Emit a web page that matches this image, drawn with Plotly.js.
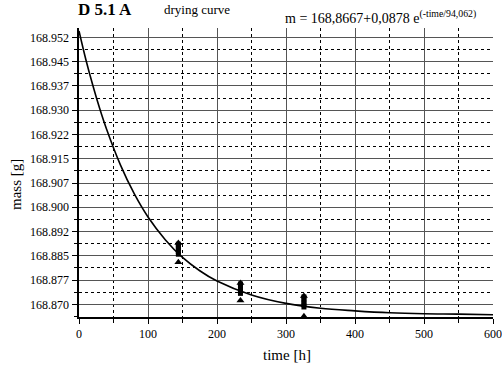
<!DOCTYPE html>
<html>
<head>
<meta charset="utf-8">
<script src="https://cdn.plot.ly/plotly-3.0.1.min.js"></script>
<style>html,body{margin:0;padding:0;background:#fff;}#chart{width:502px;height:367px;}</style>
</head>
<body>
<div id="chart"></div>
<script>
// Fitted drying curve
const curveTime = [0, 10, 20, 30, 40, 60, 80, 100, 125, 150, 175, 200, 250, 300, 350, 400, 450, 500, 550, 600];
const curveMass = [168.9545, 168.9456, 168.9377, 168.9305, 168.9241, 168.9131, 168.9042, 168.8970, 168.8900, 168.8845, 168.8804, 168.8772, 168.8729, 168.8703, 168.8688, 168.8680, 168.8674, 168.8671, 168.8670, 168.8668];

// Measured samples (stacked squares)
const sampleTime = [144, 144, 144, 144, 144, 234, 234, 234, 234, 234, 326, 326, 326, 326, 326];
const sampleMass = [168.8886, 168.8879, 168.8871, 168.8863, 168.8855, 168.8763, 168.8756, 168.8748, 168.8741, 168.8734, 168.8723, 168.8715, 168.8707, 168.8699, 168.8692];

// Measured samples (triangles)
const triTime = [144, 144, 234, 234, 326, 326];
const triMass = [168.8890, 168.8830, 168.8766, 168.8712, 168.8726, 168.8663];

// Axis ticks
const yTickVals = [168.8700, 168.8775, 168.8850, 168.8925, 168.9000, 168.9075, 168.9150, 168.9225, 168.9300, 168.9375, 168.9450, 168.9525];
const yTickText = ['168.870', '168.877', '168.885', '168.892', '168.900', '168.907', '168.915', '168.922', '168.930', '168.937', '168.945', '168.952'];
const xTickVals = [0, 100, 200, 300, 400, 500, 600];

const serif = 'Liberation Serif, Times New Roman, serif';

const traces = [
  {x: curveTime, y: curveMass, mode: 'lines', line: {color: '#000', width: 1.6, shape: 'spline', smoothing: 1}, hoverinfo: 'skip', showlegend: false},
  {x: sampleTime, y: sampleMass, mode: 'markers', marker: {symbol: 'square', size: 5, color: '#000'}, showlegend: false},
  {x: triTime, y: triMass, mode: 'markers', marker: {symbol: 'triangle-up', size: 7, color: '#000'}, showlegend: false}
];

const px = v => (v - 79) / 414;
const py = v => (317 - v) / 289;

const layout = {
  width: 502, height: 367,
  margin: {l: 79, r: 9, t: 28, b: 50},
  paper_bgcolor: '#fff', plot_bgcolor: '#fff',
  font: {family: serif, color: '#000', size: 12},
  showlegend: false,
  xaxis: {
    range: [0, 600], tickmode: 'array', tickvals: xTickVals,
    ticks: 'outside', ticklen: 5, tickwidth: 1, tickcolor: '#000',
    showline: true, linecolor: '#000', linewidth: 2,
    showgrid: true, gridcolor: '#555', gridwidth: 1,
    zeroline: false, tickfont: {size: 12, family: serif},
    minor: {tickmode: 'linear', tick0: 50, dtick: 100, showgrid: true, gridcolor: '#000', griddash: 'dot', gridwidth: 1, ticks: 'outside', ticklen: 4, tickcolor: '#000'}
  },
  yaxis: {
    range: [168.8661, 168.9554], tickmode: 'array', tickvals: yTickVals, ticktext: yTickText,
    ticks: 'outside', ticklen: 5, tickwidth: 1, tickcolor: '#000',
    showline: true, linecolor: '#000', linewidth: 2.5,
    showgrid: true, gridcolor: '#555', gridwidth: 1,
    zeroline: false, tickfont: {size: 12, family: serif},
    minor: {tickmode: 'linear', tick0: 168.87375, dtick: 0.0075, showgrid: true, gridcolor: '#000', griddash: 'dot', gridwidth: 1, ticks: 'outside', ticklen: 3, tickcolor: '#000'}
  },
  annotations: [
    {xref: 'paper', yref: 'paper', x: px(76), y: py(10), xanchor: 'left', yanchor: 'middle', showarrow: false,
     text: '<b>D 5.1 A</b>', font: {family: serif, size: 17, color: '#000'}},
    {xref: 'paper', yref: 'paper', x: px(162), y: py(9), xanchor: 'left', yanchor: 'middle', showarrow: false,
     text: 'drying curve', font: {family: serif, size: 13, color: '#000'}},
    {xref: 'paper', yref: 'paper', x: px(283), y: py(17), xanchor: 'left', yanchor: 'middle', showarrow: false,
     text: 'm = 168,8667+0,0878 e<sup>(-time/94,062)</sup>', font: {family: serif, size: 14, color: '#000'}},
    {xref: 'paper', yref: 'paper', x: px(287), y: py(355), xanchor: 'center', yanchor: 'middle', showarrow: false,
     text: 'time [h]', font: {family: serif, size: 15, color: '#000'}},
    {xref: 'paper', yref: 'paper', x: px(16), y: py(184), xanchor: 'center', yanchor: 'middle', showarrow: false, textangle: -90,
     text: 'mass [g]', font: {family: serif, size: 15, color: '#000'}}
  ]
};

Plotly.newPlot('chart', traces, layout, {staticPlot: true, displayModeBar: false});
</script>
</body>
</html>
